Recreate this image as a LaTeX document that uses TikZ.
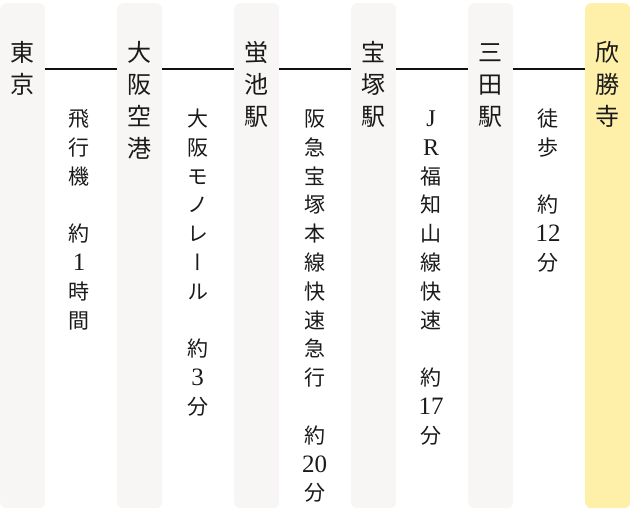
\documentclass[tikz,border=0pt]{standalone}
\usepackage{fontspec}
\setmainfont{Liberation Serif}
\newfontfamily\jp{Noto Sans CJK JP}[RawFeature=+vert]
\newfontfamily\lat{Liberation Serif}
\newcommand\latn{\lat\fontsize{25}{25}\selectfont}
\newcommand\latl{\lat\fontsize{24}{24}\selectfont}
\definecolor{colgray}{HTML}{F7F6F4}
\definecolor{colyellow}{HTML}{FEF0A9}
\definecolor{txt}{HTML}{1A1A1A}
\definecolor{linecol}{HTML}{111111}
\tikzset{
  col/.style={fill=colgray, draw=none, rounded corners=6pt, minimum width=45pt,
    minimum height=505pt, anchor=north west, inner sep=0pt},
  colhl/.style={col, fill=colyellow},
  conn/.style={line width=2.2pt, draw=linecol},
  stch/.style={font=\jp\fontsize{24}{24}\selectfont, inner sep=0pt,
    text height=21pt, text depth=3pt, text=txt},
  trch/.style={font=\jp\fontsize{21}{21}\selectfont, inner sep=0pt,
    text height=18.5pt, text depth=2.6pt, text=txt},
}
\newcommand\stname[3]{%
  \foreach \c [count=\i] in {#3} \node[stch] (s#1-\i) at (#2,{52+(\i-1)*32}) {\c};}
\newcommand\trtext[4]{%
  \foreach \c [count=\i] in {#4} \node[trch] (t#1-\the\numexpr#3+\i\relax) at (#2,{118.5+(#3+\i-1)*28.8}) {\c};}
\begin{document}
\begin{tikzpicture}[x=1pt,y=-1pt]
\useasboundingbox (0,0) rectangle (631,509);
% columns
\node[col]   (c1) at (0,3) {};
\node[col]   (c2) at (117,3) {};
\node[col]   (c3) at (234,3) {};
\node[col]   (c4) at (351,3) {};
\node[col]   (c5) at (468,3) {};
\node[colhl] (c6) at (585,3) {};
% connectors
\draw[conn] ([yshift=-66pt]c1.north east) -- ([yshift=-66pt]c2.north west);
\draw[conn] ([yshift=-66pt]c2.north east) -- ([yshift=-66pt]c3.north west);
\draw[conn] ([yshift=-66pt]c3.north east) -- ([yshift=-66pt]c4.north west);
\draw[conn] ([yshift=-66pt]c4.north east) -- ([yshift=-66pt]c5.north west);
\draw[conn] ([yshift=-66pt]c5.north east) -- ([yshift=-66pt]c6.north west);
% station names
\stname{1}{22}{東,京}
\stname{2}{139.5}{大,阪,空,港}
\stname{3}{256.5}{蛍,池,駅}
\stname{4}{373.5}{宝,塚,駅}
\stname{5}{490.5}{三,田,駅}
\stname{6}{607.5}{欣,勝,寺}
% travel texts
\trtext{1}{79}{0}{飛,行,機}
\trtext{1}{79}{4}{約,{\latn 1},時,間}
\trtext{2}{197.5}{0}{大,阪,モ,ノ,レ,ー,ル}
\trtext{2}{197.5}{8}{約,{\latn 3},分}
\trtext{3}{314.5}{0}{阪,急,宝,塚,本,線,快,速,急,行}
\trtext{3}{314.5}{11}{約,{\latn 20},分}
\trtext{4}{431}{0}{{\latl J},{\latl R},福,知,山,線,快,速}
\trtext{4}{431}{9}{約,{\latn 17},分}
\trtext{5}{548}{0}{徒,歩}
\trtext{5}{548}{3}{約,{\latn 12},分}
\end{tikzpicture}
\end{document}
